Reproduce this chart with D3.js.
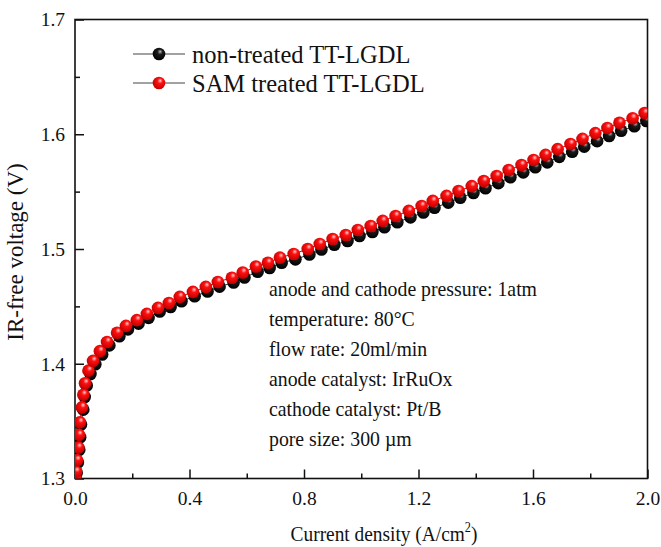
<!DOCTYPE html>
<html>
<head>
<meta charset="utf-8">
<script src="https://cdn.jsdelivr.net/npm/d3@7"></script>
<style>
  body { margin: 0; background: #fff; }
  text { font-family: "Liberation Serif", "Times New Roman", serif; fill: #111; }
</style>
</head>
<body>
<div id="chart"></div>
<script>
// values
var redCurrent = [0.001, 0.004, 0.007, 0.012, 0.014, 0.017, 0.024, 0.029, 0.035, 0.047, 0.063, 0.087, 0.112, 0.147, 0.178,
    0.216, 0.251, 0.290, 0.328, 0.366, 0.412, 0.457, 0.499, 0.548, 0.586, 0.632, 0.674, 0.716,
    0.764, 0.813, 0.855, 0.900, 0.946, 0.988, 1.033, 1.075, 1.120, 1.166, 1.211, 1.250, 1.298, 1.340,
    1.386, 1.428, 1.473, 1.515, 1.560, 1.602, 1.644, 1.686, 1.731, 1.773, 1.818, 1.860, 1.902, 1.948, 1.990];
var redVoltage = [1.301, 1.306, 1.316, 1.327, 1.338, 1.349, 1.362, 1.373, 1.383, 1.394, 1.4025, 1.411, 1.419, 1.427, 1.433,
    1.438, 1.4435, 1.4487, 1.453, 1.4583, 1.4626, 1.467, 1.4713, 1.475, 1.4795, 1.4847, 1.488, 1.4925,
    1.4957, 1.500, 1.5044, 1.5087, 1.5122, 1.5166, 1.5201, 1.5245, 1.5288, 1.5332, 1.5375, 1.5419, 1.5463, 1.5506,
    1.5548, 1.5592, 1.5636, 1.5688, 1.5732, 1.5776, 1.582, 1.587, 1.5915, 1.596, 1.601, 1.6055, 1.610, 1.614, 1.6185];

var blackCurrent = [0.002, 0.006, 0.010, 0.015, 0.018, 0.021, 0.029, 0.034, 0.041, 0.054, 0.071, 0.095, 0.120, 0.155, 0.185,
    0.222, 0.257, 0.296, 0.334, 0.372, 0.418, 0.463, 0.505, 0.554, 0.592, 0.638, 0.680, 0.722,
    0.770, 0.819, 0.861, 0.906, 0.952, 0.994, 1.039, 1.081, 1.126, 1.172, 1.217, 1.256, 1.304, 1.346,
    1.392, 1.434, 1.479, 1.521, 1.566, 1.608, 1.650, 1.692, 1.737, 1.779, 1.824, 1.866, 1.908, 1.954, 1.996];
var blackVoltage = [1.300, 1.305, 1.314, 1.325, 1.336, 1.347, 1.360, 1.371, 1.381, 1.391, 1.3995, 1.408, 1.416, 1.424, 1.430,
    1.435, 1.440, 1.4455, 1.4495, 1.4545, 1.4588, 1.463, 1.4672, 1.4708, 1.4752, 1.4802, 1.4835, 1.488,
    1.491, 1.4952, 1.4995, 1.5037, 1.507, 1.5113, 1.5148, 1.519, 1.5233, 1.5276, 1.5318, 1.536, 1.5404, 1.5446,
    1.5488, 1.553, 1.5574, 1.5625, 1.5668, 1.5712, 1.5755, 1.5803, 1.5848, 1.5892, 1.594, 1.5985, 1.603, 1.607, 1.6115];

var seriesNames = ['non-treated TT-LGDL', 'SAM treated TT-LGDL'];
var xTicks = [0, 0.4, 0.8, 1.2, 1.6, 2.0];
var xMinorTicks = [0.2, 0.6, 1.0, 1.4, 1.8];
var yTicks = [1.3, 1.4, 1.5, 1.6, 1.7];
var yMinorTicks = [1.35, 1.45, 1.55, 1.65];
var notes = ['anode and cathode pressure: 1atm', 'temperature: 80\u00B0C', 'flow rate: 20ml/min',
    'anode catalyst: IrRuOx', 'cathode catalyst: Pt/B', 'pore size: 300 \u00B5m'];

var W = 661, H = 547;
var m = {left: 75, right: 13.5, top: 19.5, bottom: 68.5};

var svg = d3.select('#chart').append('svg')
    .attr('width', W).attr('height', H);

var x = d3.scaleLinear().domain([0, 2]).range([m.left, W - m.right]);
var y = d3.scaleLinear().domain([1.3, 1.7]).range([H - m.bottom, m.top]);

// sphere-like marker fills
var defs = svg.append('defs');
function ball(id, c0, c1, c2) {
    var g = defs.append('radialGradient').attr('id', id)
        .attr('cx', '0.55').attr('cy', '0.4').attr('r', '0.6')
        .attr('fx', '0.6').attr('fy', '0.3');
    g.append('stop').attr('offset', '0%').attr('stop-color', c0);
    g.append('stop').attr('offset', '35%').attr('stop-color', c1);
    g.append('stop').attr('offset', '100%').attr('stop-color', c2);
}
ball('gBlack', '#bbbbbb', '#1a1a1a', '#000000');
ball('gRed', '#ffd0d0', '#ff1010', '#c00000');

defs.append('clipPath').attr('id', 'plotClip')
    .append('rect')
    .attr('x', x(0)).attr('y', y(1.7))
    .attr('width', x(2) - x(0)).attr('height', y(1.3) - y(1.7));

// axes with inward ticks
svg.append('g')
    .attr('transform', 'translate(0,' + y(1.3) + ')')
    .call(d3.axisBottom(x).tickValues(xTicks).tickFormat(d3.format('.1f'))
        .tickSizeInner(-9).tickSizeOuter(0).tickPadding(13));
svg.append('g')
    .attr('transform', 'translate(0,' + y(1.3) + ')')
    .call(d3.axisBottom(x).tickValues(xMinorTicks).tickFormat('')
        .tickSizeInner(-5).tickSizeOuter(0));

svg.append('g')
    .attr('transform', 'translate(' + x(0) + ',0)')
    .call(d3.axisLeft(y).tickValues(yTicks).tickFormat(d3.format('.1f'))
        .tickSizeInner(-9).tickSizeOuter(0).tickPadding(10));
svg.append('g')
    .attr('transform', 'translate(' + x(0) + ',0)')
    .call(d3.axisLeft(y).tickValues(yMinorTicks).tickFormat('')
        .tickSizeInner(-5).tickSizeOuter(0));

svg.selectAll('.domain').remove();
svg.selectAll('.tick line').attr('stroke', '#111').attr('stroke-width', 1.5);
svg.selectAll('.tick text')
    .style('font-family', '"Liberation Serif", serif')
    .style('font-size', '19.5px')
    .attr('fill', '#222');

// frame
svg.append('rect')
    .attr('x', x(0)).attr('y', y(1.7))
    .attr('width', x(2) - x(0)).attr('height', y(1.3) - y(1.7))
    .attr('fill', 'none').attr('stroke', '#111').attr('stroke-width', 1.6);

// series
var plot = svg.append('g').attr('clip-path', 'url(#plotClip)');
var series = [
    {cur: blackCurrent, volt: blackVoltage, fill: 'url(#gBlack)', line: '#333'},
    {cur: redCurrent, volt: redVoltage, fill: 'url(#gRed)', line: '#c00'}
];
var line = d3.line().x(function(d) {return x(d[0]);}).y(function(d) {return y(d[1]);});

series.forEach(function(s) {
    var pts = s.cur.map(function(c, i) {return [c, s.volt[i]];});
    plot.append('path').datum(pts)
        .attr('d', line)
        .attr('fill', 'none')
        .attr('stroke', s.line)
        .attr('stroke-width', 1);
    plot.selectAll(null).data(pts).enter()
        .append('circle')
        .attr('cx', function(d) {return x(d[0]);})
        .attr('cy', function(d) {return y(d[1]);})
        .attr('r', 6.3)
        .attr('fill', s.fill);
});

// legend
var legend = svg.append('g');
seriesNames.forEach(function(name, i) {
    var ly = 54 + i * 29;
    legend.append('line')
        .attr('x1', 133).attr('x2', 185).attr('y1', ly).attr('y2', ly)
        .attr('stroke', '#444').attr('stroke-width', 1);
    legend.append('circle')
        .attr('cx', 159).attr('cy', ly).attr('r', 6.3)
        .attr('fill', series[i].fill);
    legend.append('text')
        .attr('x', 192).attr('y', ly).attr('dy', '0.35em')
        .style('font-size', '24.5px')
        .text(name);
});

// test conditions (glyphs a bit narrow, like the source)
svg.append('g')
    .attr('transform', 'translate(269,0) scale(0.9,1)')
    .selectAll('text')
    .data(notes).enter()
    .append('text')
    .attr('x', 0)
    .attr('y', function(d, i) {return 296 + i * 30;})
    .style('font-size', '22px')
    .text(function(d) {return d;});

// axis titles
var xt = svg.append('text')
    .attr('transform', 'translate(384,541) scale(0.88,1)')
    .attr('text-anchor', 'middle')
    .style('font-size', '22px');
xt.append('tspan').text('Current density (A/cm');
xt.append('tspan').attr('dy', -9).style('font-size', '14px').text('2');
xt.append('tspan').attr('dy', 9).text(')');

svg.append('text')
    .attr('transform', 'translate(23,252) rotate(-90)')
    .attr('text-anchor', 'middle')
    .style('font-size', '23px')
    .text('IR-free voltage (V)');
</script>
</body>
</html>
